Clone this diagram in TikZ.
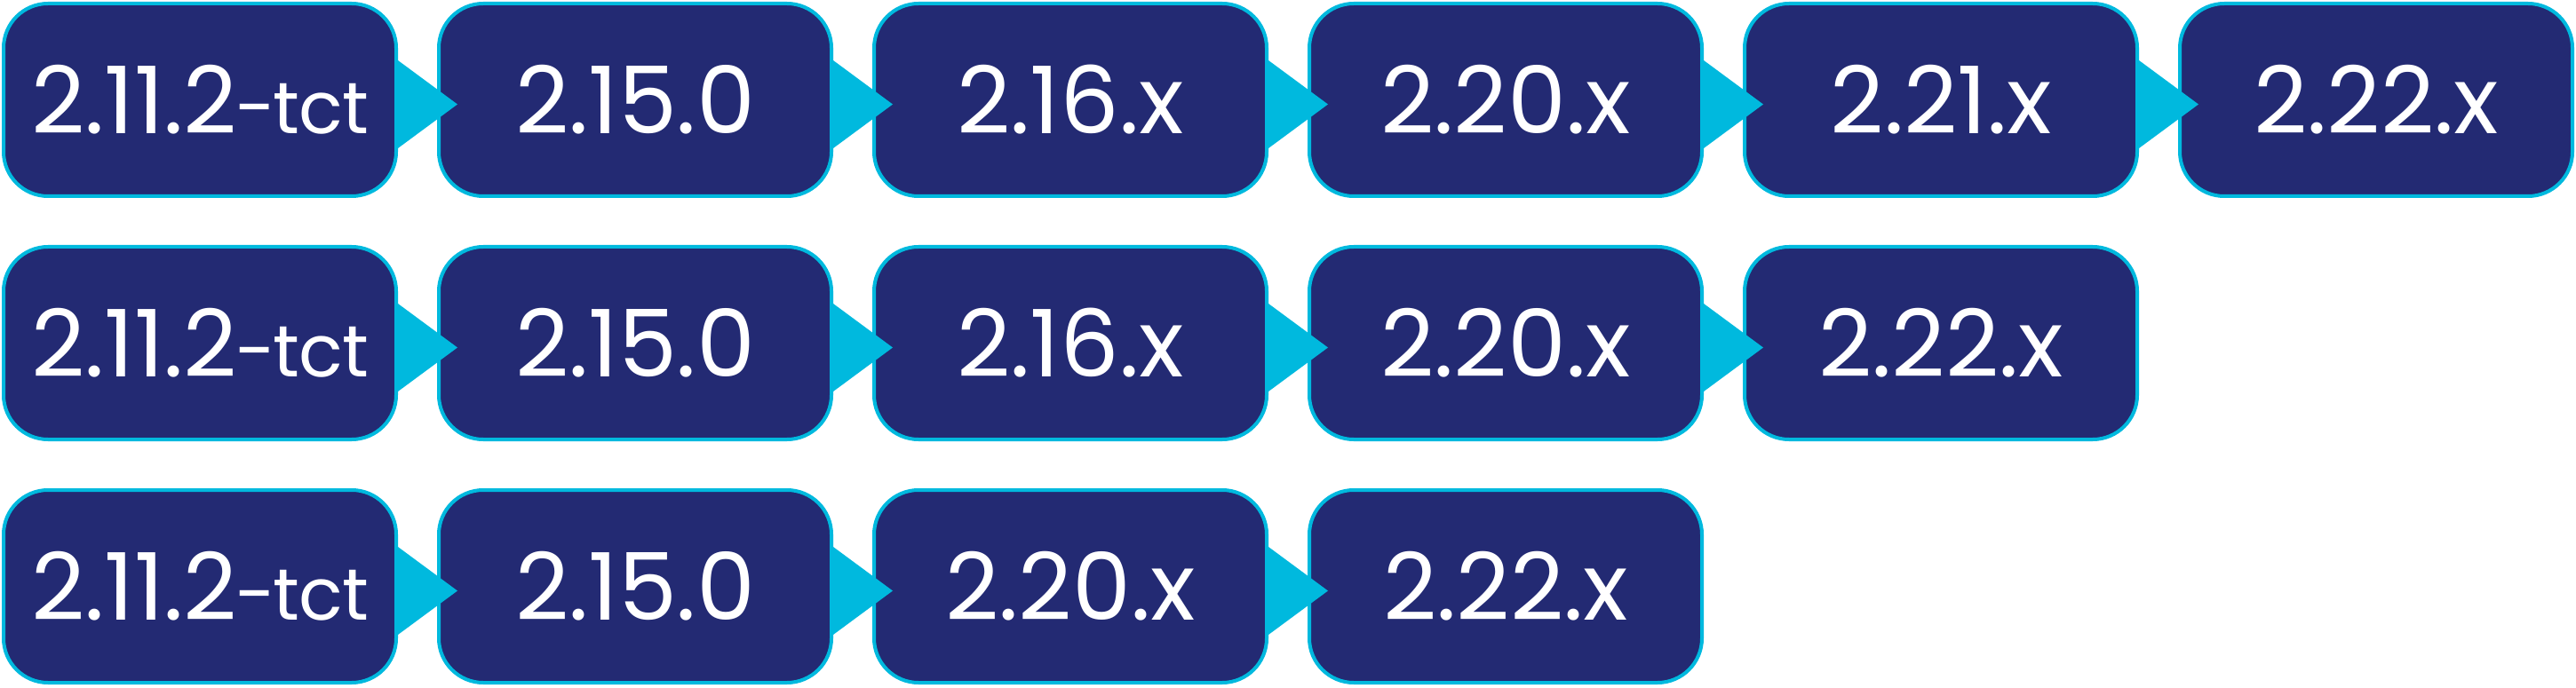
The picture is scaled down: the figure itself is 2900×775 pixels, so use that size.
\documentclass[tikz,border=0pt]{standalone}
\usepackage{fontspec}
\newfontfamily\boxfont{Poppins}
\usetikzlibrary{calc}
\definecolor{boxfill}{RGB}{35,42,115}
\definecolor{boxline}{RGB}{0,185,222}
\tikzset{
  ver/.style={draw=boxline, fill=boxfill, line width=4pt, rounded corners=50pt,
    minimum width=442pt, minimum height=217pt, inner sep=0pt, text=white,
    font=\boxfont\fontsize{105}{110}\selectfont},
  tri/.style={fill=boxline}
}
\newcommand\conn[2]{\fill[tri] ($(#1.east)+(0,-44.5)$) -- ($(#2.west)+(23,5)$) -- ($(#1.east)+(0,54.5)$) -- cycle;}
\newcommand\tctlabel{2.11.2{\fontsize{82}{90}\selectfont\kern-2pt-\kern-3pt t\kern-1pt c\kern-1pt t}}
\begin{document}
\begin{tikzpicture}[x=1pt,y=-1pt]
\useasboundingbox (0,0) rectangle (2900,775);
% row 1
\node[ver] (a1) at (225,112.5) {\tctlabel};
\node[ver] (a2) at (715,112.5) {2.15.0};
\node[ver] (a3) at (1205,112.5) {2.16.x};
\node[ver] (a4) at (1695,112.5) {2.20.x};
\node[ver] (a5) at (2185,112.5) {2.21.x};
\node[ver] (a6) at (2675,112.5) {2.22.x};
% row 2
\node[ver] (b1) at (225,386.5) {\tctlabel};
\node[ver] (b2) at (715,386.5) {2.15.0};
\node[ver] (b3) at (1205,386.5) {2.16.x};
\node[ver] (b4) at (1695,386.5) {2.20.x};
\node[ver] (b5) at (2185,386.5) {2.22.x};
% row 3
\node[ver] (c1) at (225,660.5) {\tctlabel};
\node[ver] (c2) at (715,660.5) {2.15.0};
\node[ver] (c3) at (1205,660.5) {2.20.x};
\node[ver] (c4) at (1695,660.5) {2.22.x};
% connectors
\conn{a1}{a2}\conn{a2}{a3}\conn{a3}{a4}\conn{a4}{a5}\conn{a5}{a6}
\conn{b1}{b2}\conn{b2}{b3}\conn{b3}{b4}\conn{b4}{b5}
\conn{c1}{c2}\conn{c2}{c3}\conn{c3}{c4}
\end{tikzpicture}
\end{document}
